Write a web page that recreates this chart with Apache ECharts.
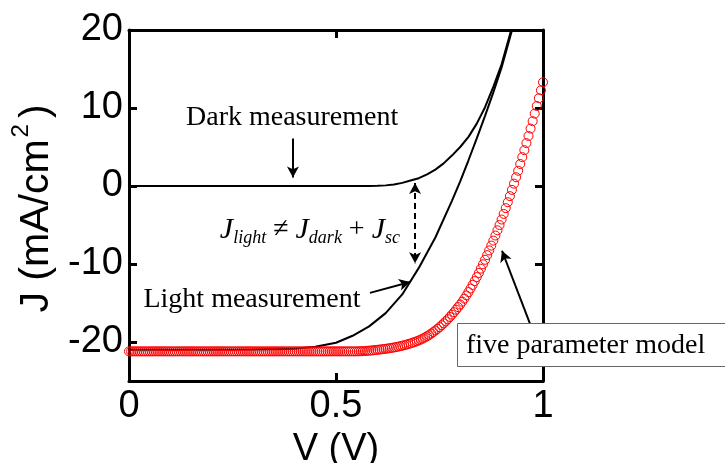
<!DOCTYPE html>
<html><head><meta charset="utf-8">
<script src="https://cdn.jsdelivr.net/npm/echarts@6/dist/echarts.min.js"></script>
<style>html,body{margin:0;padding:0;background:#fff}#c{width:725px;height:463px}</style>
</head><body><div id="c"></div>
<script>
// ---- data ----
const xTicks = [0, 0.5, 1];
const xTickLabels = ['0', '0.5', '1'];
const yTicks = [-20, -10, 0, 10, 20];
const yTickLabels = ['-20', '-10', '0', '10', '20'];

const darkV = [0,0.1,0.2,0.3,0.4,0.5,0.58,0.6,0.62,0.64,0.66,0.68,0.70,0.72,0.74,0.76,0.78,0.80,0.82,0.84,0.86,0.88,0.90,0.92,0.93];
const darkJ = [0,0,0,0,0,0,0,0.02,0.08,0.2,0.4,0.7,1.0,1.5,2.1,2.9,3.9,5.0,6.3,8.0,10.1,12.7,15.6,19.4,21.4];

const lightV = [0,0.1,0.2,0.3,0.4,0.45,0.5,0.54,0.58,0.62,0.66,0.70,0.74,0.78,0.80,0.82,0.84,0.86,0.88,0.90,0.92,0.93];
const lightJ = [-21.0,-21.0,-21.0,-20.95,-20.85,-20.6,-20.1,-19.2,-18.0,-16.3,-13.9,-10.5,-6.6,-1.9,0.6,3.3,6.1,9.0,12.0,15.2,19.0,20.9];

const modelV = [0,0.005,0.01,0.015,0.02,0.025,0.03,0.035,0.04,0.045,0.05,0.055,0.06,0.065,0.07,0.075,0.08,0.085,0.09,0.095,
0.1,0.105,0.11,0.115,0.12,0.125,0.13,0.135,0.14,0.145,0.15,0.155,0.16,0.165,0.17,0.175,0.18,0.185,0.19,0.195,
0.2,0.205,0.21,0.215,0.22,0.225,0.23,0.235,0.24,0.245,0.25,0.255,0.26,0.265,0.27,0.275,0.28,0.285,0.29,0.295,
0.3,0.305,0.31,0.315,0.32,0.325,0.33,0.335,0.34,0.345,0.35,0.355,0.36,0.365,0.37,0.375,0.38,0.385,0.39,0.395,
0.4,0.405,0.41,0.415,0.42,0.425,0.43,0.435,0.44,0.445,0.45,0.455,0.46,0.465,0.47,0.475,0.48,0.485,0.49,0.495,
0.5,0.505,0.51,0.515,0.52,0.525,0.53,0.535,0.54,0.545,0.55,0.555,0.56,0.565,0.57,0.575,0.58,0.585,0.59,0.595,
0.6,0.605,0.61,0.615,0.62,0.625,0.63,0.635,0.64,0.645,0.65,0.655,0.66,0.665,0.67,0.675,0.68,0.685,0.69,0.695,
0.7,0.705,0.71,0.715,0.72,0.725,0.73,0.735,0.74,0.745,0.75,0.755,0.76,0.765,0.77,0.775,0.78,0.785,0.79,0.795,
0.8,0.805,0.81,0.815,0.82,0.825,0.83,0.835,0.84,0.845,0.85,0.855,0.86,0.865,0.87,0.875,0.88,0.885,0.89,0.895,
0.9,0.905,0.91,0.915,0.92,0.925,0.93,0.935,0.94,0.945,0.95,0.955,0.96,0.965,0.97,0.975,0.98,0.985,0.99,0.995,1.0];
const modelJ = [
-21.2,-21.2,-21.2,-21.2,-21.2,-21.2,-21.2,-21.2,-21.2,-21.2,-21.2,-21.2,-21.2,-21.2,-21.2,-21.2,-21.2,-21.2,-21.2,-21.2,
-21.2,-21.2,-21.2,-21.2,-21.2,-21.2,-21.2,-21.2,-21.2,-21.2,-21.2,-21.2,-21.2,-21.2,-21.2,-21.2,-21.2,-21.2,-21.2,-21.2,
-21.2,-21.2,-21.2,-21.2,-21.2,-21.2,-21.2,-21.2,-21.2,-21.2,-21.2,-21.2,-21.2,-21.2,-21.2,-21.2,-21.2,-21.2,-21.2,-21.2,
-21.2,-21.2,-21.2,-21.2,-21.2,-21.2,-21.2,-21.2,-21.2,-21.2,-21.2,-21.2,-21.2,-21.2,-21.2,-21.2,-21.2,-21.2,-21.2,-21.2,
-21.2,-21.2,-21.2,-21.2,-21.2,-21.2,-21.2,-21.2,-21.2,-21.2,-21.2,-21.2,-21.2,-21.2,-21.2,-21.2,-21.2,-21.2,-21.2,-21.2,
-21.2,-21.2,-21.2,-21.2,-21.2,-21.2,-21.2,-21.2,-21.2,-21.2,-21.2,-21.19,-21.18,-21.17,-21.15,-21.13,-21.11,-21.09,-21.06,-21.03,
-21.0,-20.97,-20.94,-20.91,-20.87,-20.83,-20.79,-20.75,-20.70,-20.65,-20.6,-20.54,-20.48,-20.41,-20.34,-20.26,-20.18,-20.09,-20.00,-19.90,
-19.80,-19.68,-19.55,-19.41,-19.26,-19.10,-18.92,-18.73,-18.53,-18.32,-18.10,-17.86,-17.61,-17.35,-17.08,-16.79,-16.49,-16.18,-15.86,-15.53,
-15.20,-14.83,-14.44,-14.03,-13.60,-13.15,-12.68,-12.19,-11.68,-11.15,-10.60,-10.04,-9.46,-8.87,-8.26,-7.64,-7.00,-6.35,-5.68,-5.00,
-4.30,-3.58,-2.84,-2.08,-1.30,-0.50,0.30,1.12,1.96,2.82,3.70,4.59,5.50,6.42,7.36,8.31,9.28,10.26,11.26,12.27,13.30];

// annotation anchors (data coordinates)
const darkArrow = [[0.396, 6.1], [0.396, 1.1]];
const gapArrow = [[0.691, 0.4], [0.691, -9.9]];
const lightArrow = [[0.582, -13.7], [0.679, -12.3]];
const modelArrow = [[0.969, -17.7], [0.901, -8.3]];
const darkLabelAt = [0.394, 8.8];
const lightLabelAt = [0.297, -14.6];
const formulaAt = [0.437, -5.6];
const modelLabelAt = [0.792, -20.4];

const serif = 'Liberation Serif';
const sans = 'Liberation Sans';
const zip = (a, b) => a.map((v, i) => [v, b[i]]);

function arrow(p, bothEnds, dashed) {
  return [
    { coord: p[0], symbol: bothEnds ? 'arrow' : 'none', symbolSize: [9, 11],
      lineStyle: { color: '#000', width: 2, type: dashed ? [6, 4] : 'solid' } },
    { coord: p[1], symbol: 'arrow', symbolSize: [9, 11] }
  ];
}
function textMark(at, text, extra) {
  return Object.assign({ coord: at, symbol: 'circle', symbolSize: 0,
    label: { show: true, position: 'inside', formatter: text, color: '#000',
      fontFamily: serif, fontSize: 28 } }, extra || {});
}

const chart = echarts.init(document.getElementById('c'), null, { renderer: 'canvas' });
const axisLineStyle = { color: '#000', width: 3 };
const tickStyle = { inside: true, length: 8, lineStyle: { color: '#000', width: 3 } };
chart.setOption({
  animation: false,
  backgroundColor: '#fff',
  grid: { left: 129, right: 182, top: 30, bottom: 82, containLabel: false, outerBoundsMode: 'none' },
  xAxis: [{
    type: 'value', min: 0, max: 1, interval: 0.5, position: 'bottom',
    axisLine: { onZero: false, lineStyle: axisLineStyle },
    axisTick: Object.assign({ customValues: xTicks }, tickStyle),
    axisLabel: { customValues: xTicks, formatter: v => xTickLabels[xTicks.indexOf(v)], fontSize: 38,
      fontFamily: sans, color: '#000', margin: 7 },
    splitLine: { show: false },
    name: 'V (V)', nameLocation: 'middle', nameGap: 44,
    nameTextStyle: { fontSize: 38, fontFamily: sans, color: '#000' }
  }, {
    type: 'value', min: 0, max: 1, interval: 0.5, position: 'top',
    axisLine: { onZero: false, lineStyle: axisLineStyle },
    axisTick: Object.assign({ customValues: xTicks }, tickStyle),
    axisLabel: { show: false }, splitLine: { show: false }
  }],
  yAxis: [{
    type: 'value', min: -25, max: 20, interval: 5, position: 'left',
    axisLine: { onZero: false, lineStyle: axisLineStyle },
    axisTick: Object.assign({ customValues: yTicks }, tickStyle),
    axisLabel: { customValues: yTicks, formatter: v => yTickLabels[yTicks.indexOf(v)], fontSize: 38,
      fontFamily: sans, color: '#000', margin: 6 },
    splitLine: { show: false },
    name: '{a|J (mA/cm}{s|2}{b|)}', nameLocation: 'middle', nameGap: 66, nameRotate: 90,
    nameTextStyle: { fontFamily: sans, fontSize: 41, color: '#000', padding: [0, 6, 0, 0],
      rich: {
        a: { fontSize: 41, fontFamily: sans, color: '#000', lineHeight: 48, verticalAlign: 'bottom' },
        s: { fontSize: 24, fontFamily: sans, color: '#000', lineHeight: 48, verticalAlign: 'top', padding: [0, 6, 0, 2] },
        b: { fontSize: 41, fontFamily: sans, color: '#000', lineHeight: 48, verticalAlign: 'bottom' }
      } }
  }, {
    type: 'value', min: -25, max: 20, interval: 5, position: 'right',
    axisLine: { onZero: false, lineStyle: axisLineStyle },
    axisTick: Object.assign({ customValues: yTicks }, tickStyle),
    axisLabel: { show: false }, splitLine: { show: false }
  }],
  series: [{
    name: 'Dark measurement', type: 'line', data: zip(darkV, darkJ), smooth: false,
    showSymbol: false, lineStyle: { color: '#000', width: 2 }, clip: true, z: 3,
    markLine: { silent: true, animation: false, label: { show: false },
      data: [arrow(darkArrow, false, false), arrow(gapArrow, true, true),
             arrow(lightArrow, false, false), arrow(modelArrow, false, false)] },
    markPoint: { silent: true, animation: false, data: [
      textMark(darkLabelAt, 'Dark measurement'),
      textMark(lightLabelAt, 'Light measurement'),
      textMark(formulaAt, '', {
        label: { show: true, position: 'inside', color: '#000', fontFamily: serif,
          formatter: '{J|J}{sub|light}{op| ≠ }{J|J}{sub|dark}{op| + }{J|J}{sub|sc}',
          rich: {
            J: { fontSize: 30, fontFamily: serif, fontStyle: 'italic', color: '#000', lineHeight: 36, verticalAlign: 'middle' },
            sub: { fontSize: 18, fontFamily: serif, fontStyle: 'italic', color: '#000', lineHeight: 36, verticalAlign: 'bottom' },
            op: { fontSize: 28, fontFamily: serif, color: '#000', lineHeight: 36, verticalAlign: 'middle' }
          } } })
    ] }
  }, {
    name: 'Light measurement', type: 'line', data: zip(lightV, lightJ), smooth: false,
    showSymbol: false, lineStyle: { color: '#000', width: 2 }, clip: true, z: 3
  }, {
    name: 'five parameter model', type: 'line', data: zip(modelV, modelJ),
    symbol: 'circle', symbolSize: 9, showAllSymbol: true, lineStyle: { width: 0, opacity: 0 },
    itemStyle: { color: 'rgba(0,0,0,0)', borderColor: '#ff0000', borderWidth: 1 }, clip: false, z: 4
  }]
});

// label box for the model, anchored at a data coordinate
const p = chart.convertToPixel({ xAxisIndex: 0, yAxisIndex: 0 }, modelLabelAt);
chart.setOption({
  graphic: [{
    type: 'rect', z: 100, silent: true,
    shape: { x: Math.round(p[0]) + 0.5, y: Math.round(p[1]) - 21.5, width: 320, height: 43 },
    style: { fill: '#fff', stroke: '#666', lineWidth: 1 }
  }, {
    type: 'text', z: 101, silent: true, x: p[0] + 9, y: p[1] + 1,
    style: { text: 'five parameter model', fill: '#000', font: '28px "Liberation Serif"',
      textVerticalAlign: 'middle', verticalAlign: 'middle' }
  }]
});
</script></body></html>
